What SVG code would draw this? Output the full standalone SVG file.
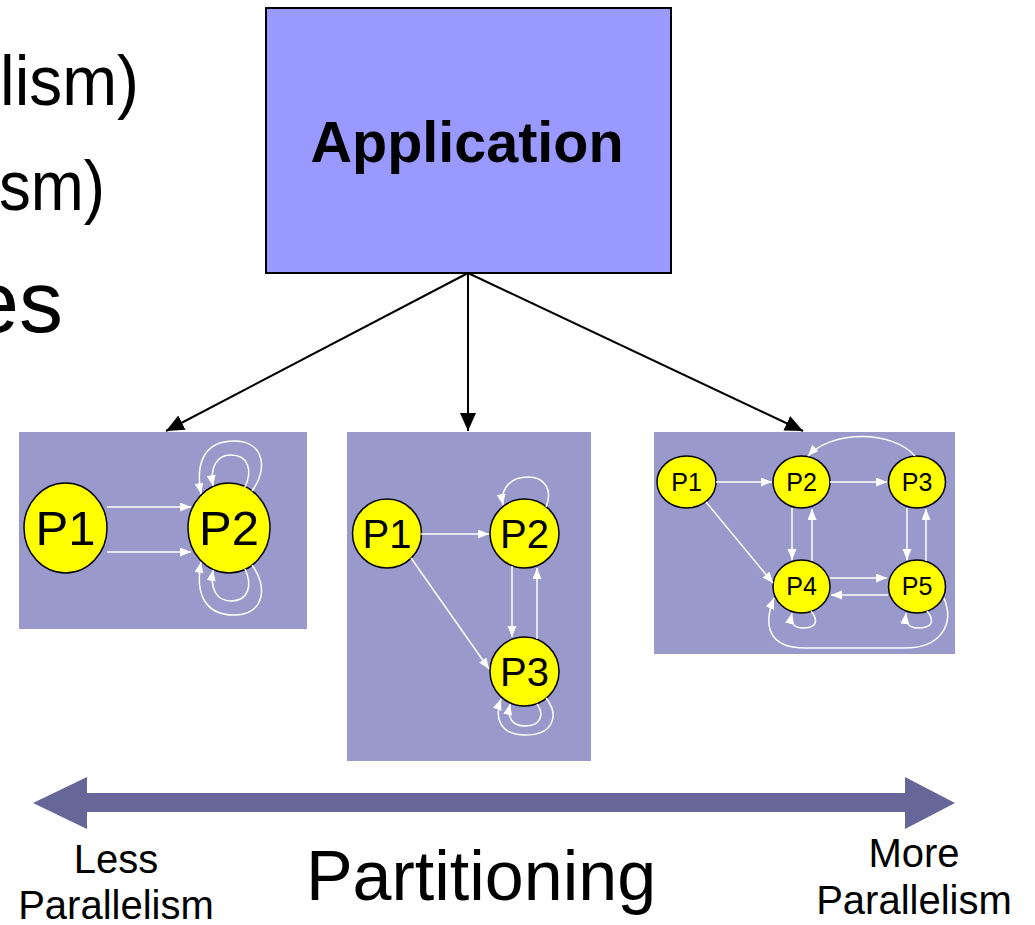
<svg xmlns="http://www.w3.org/2000/svg" width="1035" height="925" viewBox="0 0 1035 925">
  <style>
    .txt { font-family: "Liberation Sans", Arial, sans-serif; fill: #000; }
    .panel { fill: #9999cc; }
    .proc { fill: #ffff00; stroke: #000; stroke-width: 1.5; }
    .plabel { font-family: "Liberation Sans", Arial, sans-serif; fill: #000; text-anchor: middle; }
    .wedge { fill: none; stroke: #fff; stroke-width: 1.5; marker-end: url(#wArrow); }
    .bedge { fill: none; stroke: #000; stroke-width: 2; marker-end: url(#bArrow); }
  </style>
  <defs>
    <marker id="wArrow" markerUnits="userSpaceOnUse" markerWidth="12" markerHeight="10" refX="11" refY="4.5" orient="auto">
      <path d="M0,0 L11,4.5 L0,9 Z" fill="#fff"/>
    </marker>
    <marker id="bArrow" markerUnits="userSpaceOnUse" markerWidth="19" markerHeight="17" refX="18" refY="8" orient="auto">
      <path d="M0,0 L18,8 L0,16 Z" fill="#000"/>
    </marker>
  </defs>

  <rect width="1035" height="925" fill="#fff"/>

  <!-- bullet text running in from the left -->
  <g id="bullets" class="txt">
    <text x="0" y="105" font-size="71" textLength="139" lengthAdjust="spacingAndGlyphs">lism)</text>
    <text x="-1" y="210" font-size="71" textLength="106" lengthAdjust="spacingAndGlyphs">sm)</text>
    <text x="63" y="332" font-size="88" text-anchor="end">es</text>
  </g>

  <!-- application block -->
  <g id="application">
    <rect x="266" y="8" width="405" height="265" fill="#9999ff" stroke="#000" stroke-width="2"/>
    <text class="txt" x="467" y="162" font-size="57" font-weight="bold" text-anchor="middle" textLength="313" lengthAdjust="spacingAndGlyphs">Application</text>
  </g>

  <!-- partition panels -->
  <g id="partition-2">
    <rect class="panel" x="19" y="432" width="288" height="197"/>
    <g id="p2-1"><ellipse class="proc" cx="65.5" cy="528" rx="41.5" ry="45"/><text class="plabel" x="65.5" y="545" font-size="49">P1</text></g>
    <g id="p2-2"><ellipse class="proc" cx="229" cy="528" rx="41" ry="45"/><text class="plabel" x="229" y="545" font-size="49">P2</text></g>
  </g>

  <g id="partition-3">
    <rect class="panel" x="347" y="432" width="244" height="329"/>
    <g id="p3-1"><circle class="proc" cx="387" cy="533.5" r="34.5"/><text class="plabel" x="387" y="548" font-size="40">P1</text></g>
    <g id="p3-2"><circle class="proc" cx="524.5" cy="533.5" r="34.5"/><text class="plabel" x="524.5" y="548" font-size="40">P2</text></g>
    <g id="p3-3"><circle class="proc" cx="524.5" cy="671.5" r="34.5"/><text class="plabel" x="524.5" y="686" font-size="40">P3</text></g>
  </g>

  <g id="partition-5">
    <rect class="panel" x="654" y="432" width="301" height="222"/>
    <g id="p5-1"><ellipse class="proc" cx="686.5" cy="482" rx="29.5" ry="26"/><text class="plabel" x="686.5" y="491" font-size="25">P1</text></g>
    <g id="p5-2"><ellipse class="proc" cx="801.5" cy="482" rx="28.5" ry="26"/><text class="plabel" x="801.5" y="491" font-size="25">P2</text></g>
    <g id="p5-3"><ellipse class="proc" cx="917" cy="482" rx="28.5" ry="26"/><text class="plabel" x="917" y="491" font-size="25">P3</text></g>
    <g id="p5-4"><ellipse class="proc" cx="801.5" cy="586.5" rx="28.5" ry="26.5"/><text class="plabel" x="801.5" y="595" font-size="25">P4</text></g>
    <g id="p5-5"><ellipse class="proc" cx="917" cy="586.5" rx="28.5" ry="26.5"/><text class="plabel" x="917" y="595" font-size="25">P5</text></g>
  </g>

  <!-- connectors -->
  <g id="connectors">
    <!-- application to each partition -->
    <path class="bedge" d="M468,273 L166,431"/>
    <path class="bedge" d="M468,273 L468,431"/>
    <path class="bedge" d="M468,273 L803,431"/>

    <!-- two-process partition -->
    <path class="wedge" d="M107,507 L191,507"/>
    <path class="wedge" d="M107,552 L191,552"/>
    <path class="wedge" d="M252,491 C268,470 265,441 234,441 C205,441 195,462 201,494"/>
    <path class="wedge" d="M245,487 C253,470 248,455 231,455 C216,455 210,468 213,486"/>
    <path class="wedge" d="M252,565 C268,586 265,615 234,615 C205,615 195,594 201,562"/>
    <path class="wedge" d="M245,569 C253,586 248,601 231,601 C216,601 210,588 213,570"/>

    <!-- three-process partition -->
    <path class="wedge" d="M421,534 L489,534"/>
    <path class="wedge" d="M411,558 L489,669"/>
    <path class="wedge" d="M512,566 L512,637"/>
    <path class="wedge" d="M537,639 L537,568"/>
    <path class="wedge" d="M546,507 C553,490 545,477 528,477 C511,477 500,488 503,505"/>
    <path class="wedge" d="M546,698 C560,716 553,735 525,735 C500,735 494,718 501,699"/>
    <path class="wedge" d="M537,704 C545,715 540,726 525,726 C512,726 507,718 510,704"/>

    <!-- five-process partition -->
    <path class="wedge" d="M716,482 L772,482"/>
    <path class="wedge" d="M830,482 L887,482"/>
    <path class="wedge" d="M915,456 C892,430 832,430 808,456"/>
    <path class="wedge" d="M706,502 L773,583"/>
    <path class="wedge" d="M792,508 L792,560"/>
    <path class="wedge" d="M812,561 L812,509"/>
    <path class="wedge" d="M907,508 L907,560"/>
    <path class="wedge" d="M926,561 L926,509"/>
    <path class="wedge" d="M830,578 L887,578"/>
    <path class="wedge" d="M888,595 L831,595"/>
    <path class="wedge" d="M811,611 C820,622 815,628 803,628 C793,628 790,622 792,613"/>
    <path class="wedge" d="M927,611 C936,622 931,628 918,628 C908,628 905,622 906,613"/>
    <path class="wedge" d="M944,598 C955,625 940,648 905,648 L805,648 C768,648 763,625 774,598"/>
  </g>

  <!-- parallelism scale -->
  <g id="scale">
    <path d="M33,803 L87,777 L87,793 L905,793 L905,777 L955,803 L905,829 L905,812 L87,812 L87,829 Z" fill="#666699"/>
    <g class="txt" text-anchor="middle">
      <text x="116" y="873" font-size="40">Less</text>
      <text x="116" y="919" font-size="40">Parallelism</text>
      <text x="481" y="900" font-size="70">Partitioning</text>
      <text x="914" y="867" font-size="40">More</text>
      <text x="914" y="914" font-size="40">Parallelism</text>
    </g>
  </g>
</svg>
